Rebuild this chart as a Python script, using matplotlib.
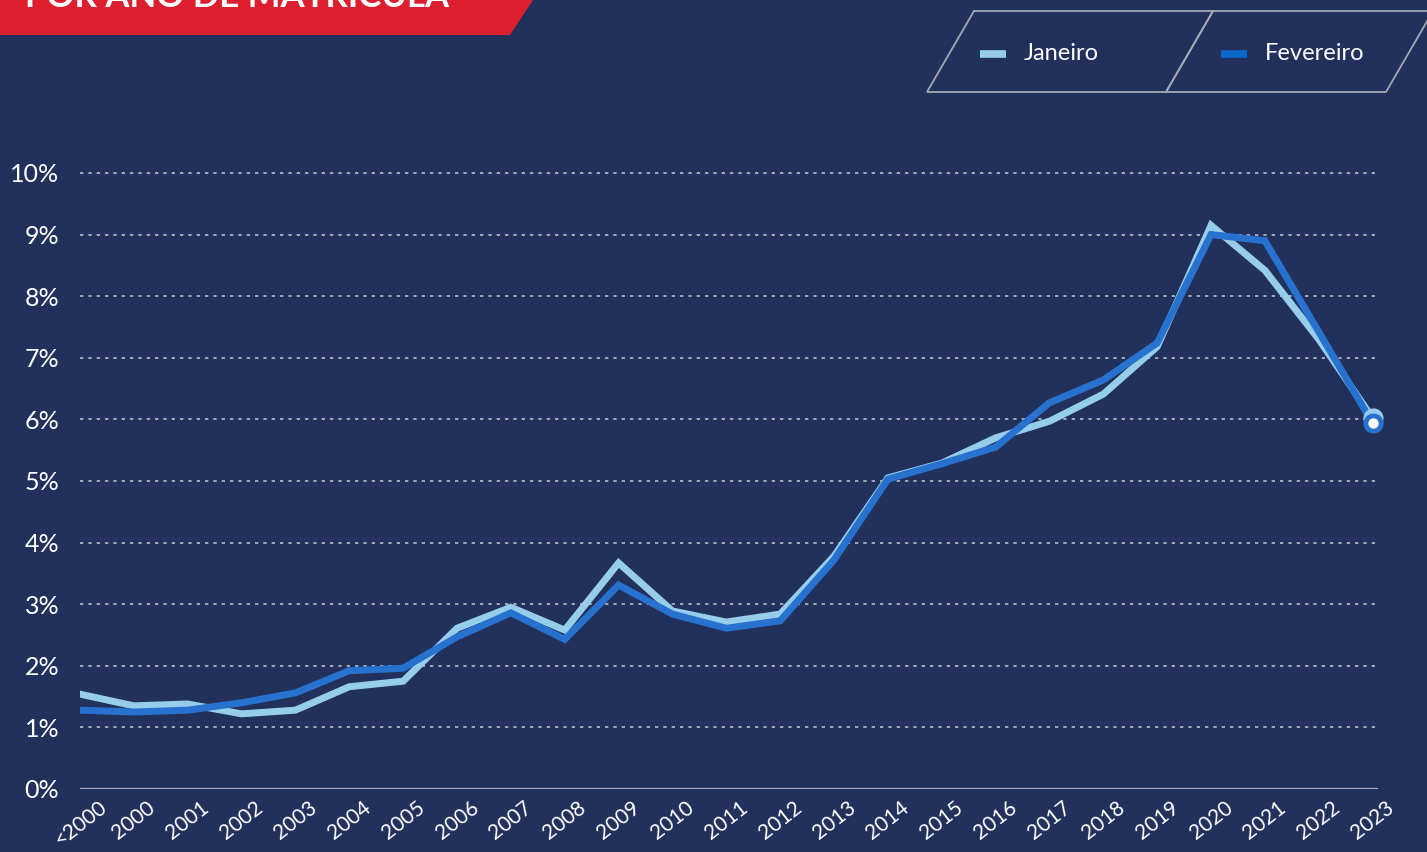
# linhas: participacao por ano de matricula (janeiro x fevereiro)
import matplotlib
matplotlib.use('Agg')
from matplotlib import pyplot as plt
from matplotlib.patches import Polygon

anos = ['<2000', '2000', '2001', '2002', '2003', '2004', '2005', '2006', '2007',
        '2008', '2009', '2010', '2011', '2012', '2013', '2014', '2015', '2016',
        '2017', '2018', '2019', '2020', '2021', '2022', '2023']
janeiro = [1.54, 1.35, 1.38, 1.22, 1.28, 1.66, 1.75, 2.61, 2.95, 2.58, 3.67, 2.89,
           2.71, 2.84, 3.78, 5.05, 5.29, 5.70, 5.97, 6.41, 7.18, 9.15, 8.42, 7.30, 6.02]
fevereiro = [1.28, 1.25, 1.28, 1.40, 1.56, 1.92, 1.96, 2.47, 2.86, 2.43, 3.31, 2.84,
             2.61, 2.73, 3.72, 5.03, 5.28, 5.55, 6.27, 6.64, 7.24, 9.00, 8.90, 7.42, 5.94]
yticks = list(range(0, 11))

FUNDO = '#22315C'
CLARO = '#96CDEB'
ESCURO = '#2872CF'
W, H = 1427, 852

plt.rcParams['font.family'] = ['Lato', 'DejaVu Sans']

fig = plt.figure(figsize=(W / 100, H / 100), dpi=100, facecolor=FUNDO)


def px(x, y):  # pixel (topo-esquerda) -> fracao da figura
    return x / W, 1 - y / H


# faixa vermelha do titulo (cortada em cima)
fig.patches.append(Polygon([px(0, 0), px(533, 0), px(510, 35), px(0, 35)],
                           closed=True, transform=fig.transFigure,
                           facecolor='#DB1F2E', edgecolor='none'))
fig.text(*px(25, 7), 'POR ANO DE MATRÍCULA', color='white', fontsize=25,
         fontweight='bold', ha='left', va='baseline')

# legenda em paralelogramos
for pts in ([(974, 11), (1213, 11), (1166, 92), (927, 92)],
            [(1213, 11), (1433, 11), (1386, 92), (1166, 92)]):
    fig.patches.append(Polygon([px(*p) for p in pts], closed=True,
                               transform=fig.transFigure, facecolor='none',
                               edgecolor='#A4A8B4', linewidth=1.3))
for x0, cor, nome in ((980, CLARO, 'Janeiro'), (1221, '#0A6AC8', 'Fevereiro')):
    fig.lines.append(plt.Line2D([x0 / W, (x0 + 26) / W], [1 - 54 / H] * 2,
                                transform=fig.transFigure, color=cor,
                                linewidth=5.5, solid_capstyle='butt'))
    fig.text(*px(x0 + 44, 54), nome, color='white', fontsize=17,
             ha='left', va='center')

# area do grafico: x 80..1378 px, y 0% em 789 px, 61.6 px por ponto
y0, ppu = 789, 61.6
ymax = 10.5
ax = fig.add_axes([80 / W, 1 - y0 / H, (1378 - 80) / W, ymax * ppu / H])
ax.set_facecolor(FUNDO)
ax.set_xlim(0, 24.1)
ax.set_ylim(0, ymax)

for v in yticks[1:]:
    ax.axhline(v, color='#B8BCC8', linewidth=1.2, dashes=(2, 3), zorder=1)
ax.axhline(0, color='#A9AEBD', linewidth=1.6, zorder=1)

xs = list(range(len(anos)))
ax.plot(xs, janeiro, color=CLARO, linewidth=5, solid_joinstyle='miter', zorder=3)
ax.plot(xs, fevereiro, color=ESCURO, linewidth=5, solid_joinstyle='miter', zorder=4)
ax.plot(xs[-1], janeiro[-1], 'o', color=CLARO, markerfacecolor='white',
        markersize=11, markeredgewidth=3.5, clip_on=False, zorder=5)
ax.plot(xs[-1], fevereiro[-1], 'o', color=ESCURO, markerfacecolor='white',
        markersize=11, markeredgewidth=3.5, clip_on=False, zorder=6)

for s in ax.spines.values():
    s.set_visible(False)
ax.set_yticks(yticks)
ax.set_yticklabels([f'{v}%' for v in yticks], color='white', fontsize=18)
ax.set_xticks(xs)
ax.set_xticklabels(anos, rotation=38, ha='center', va='top',
                   color='white', fontsize=15)
ax.tick_params(axis='both', length=0)
ax.tick_params(axis='y', pad=15)
ax.tick_params(axis='x', pad=6)

fig.savefig('out.png', dpi=100, facecolor=FUNDO)
